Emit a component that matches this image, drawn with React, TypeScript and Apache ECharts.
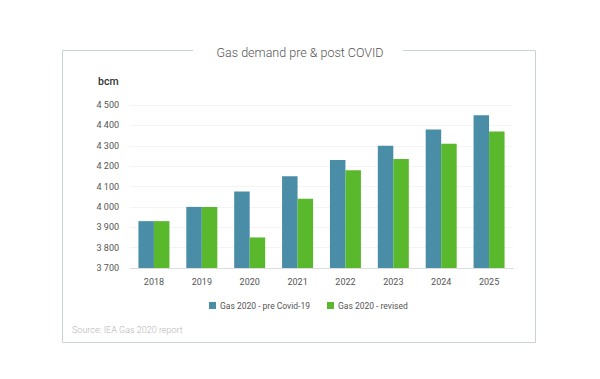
import React, { useEffect, useRef } from "react";
import * as echarts from "echarts";

const categories = ["2018", "2019", "2020", "2021", "2022", "2023", "2024", "2025"];
const preCovid = [3930, 4000, 4075, 4150, 4230, 4300, 4380, 4450];
const revised = [3930, 4000, 3850, 4040, 4180, 4235, 4310, 4370];
const seriesNames = ["Gas 2020 - pre Covid-19", "Gas 2020 - revised"];
const titleText = "Gas demand pre & post COVID";
const unitText = "bcm";
const sourceText = "Source: IEA Gas 2020 report";

export default function App() {
  const ref = useRef<HTMLDivElement>(null);
  useEffect(() => {
    if (!ref.current) return;
    const chart = echarts.init(ref.current, null, { renderer: "svg" });
    const frameColor = "#c9d3d3";
    chart.setOption({
      animation: false,
      backgroundColor: "#ffffff",
      title: {
        text: titleText,
        left: "center",
        top: 41,
        textStyle: { fontFamily: "Roboto", fontWeight: 300, fontSize: 12.5, color: "#555" },
      },
      graphic: [
        { type: "line", shape: { x1: 62.5, y1: 50.5, x2: 193, y2: 50.5 }, style: { stroke: frameColor, lineWidth: 1 } },
        { type: "line", shape: { x1: 403, y1: 50.5, x2: 535.5, y2: 50.5 }, style: { stroke: frameColor, lineWidth: 1 } },
        { type: "line", shape: { x1: 62.5, y1: 50.5, x2: 62.5, y2: 342.5 }, style: { stroke: frameColor, lineWidth: 1 } },
        { type: "line", shape: { x1: 535.5, y1: 50.5, x2: 535.5, y2: 342.5 }, style: { stroke: frameColor, lineWidth: 1 } },
        { type: "line", shape: { x1: 62.5, y1: 342.5, x2: 535.5, y2: 342.5 }, style: { stroke: frameColor, lineWidth: 1 } },
        {
          type: "text", left: 98, top: 76,
          style: { text: unitText, fontFamily: "Roboto", fontWeight: 500, fontSize: 10.5, fill: "#333" },
        },
        {
          type: "text", left: 72, top: 325,
          style: { text: sourceText, fontFamily: "Roboto", fontWeight: 300, fontSize: 9, fill: "#b5b5b5" },
        },
      ],
      legend: {
        top: 296,
        left: 204,
        itemWidth: 7,
        itemHeight: 7,
        itemGap: 17,
        icon: "rect",
        textStyle: { fontFamily: "Roboto", fontSize: 8.5, color: "#555", padding: [0, 0, 0, -1] },
        data: seriesNames,
      },
      grid: { left: 130, right: 87, top: 105, bottom: 111 },
      xAxis: {
        type: "category",
        data: categories,
        axisLine: { lineStyle: { color: "#dddddd" } },
        axisTick: { show: false },
        axisLabel: { fontFamily: "Roboto", fontSize: 9, color: "#555", margin: 9 },
      },
      yAxis: {
        type: "value",
        min: 3700,
        max: 4500,
        interval: 100,
        axisLine: { show: false },
        axisTick: { show: false },
        splitLine: { lineStyle: { color: "#f4f4f4" } },
        axisLabel: {
          fontFamily: "Roboto",
          fontSize: 9,
          color: "#555",
          margin: 11,
          formatter: (v: number) => String(v).replace(/\B(?=(\d{3})+(?!\d))/g, " "),
        },
      },
      series: [
        { name: seriesNames[0], type: "bar", data: preCovid, barWidth: 15.5, barGap: "0%", itemStyle: { color: "#4a8da6" } },
        { name: seriesNames[1], type: "bar", data: revised, barWidth: 15.5, barGap: "0%", itemStyle: { color: "#5ab82c" } },
      ],
    });
    return () => chart.dispose();
  }, []);
  return <div ref={ref} style={{ width: 600, height: 379, position: "absolute", left: 0, top: 0 }} />;
}
